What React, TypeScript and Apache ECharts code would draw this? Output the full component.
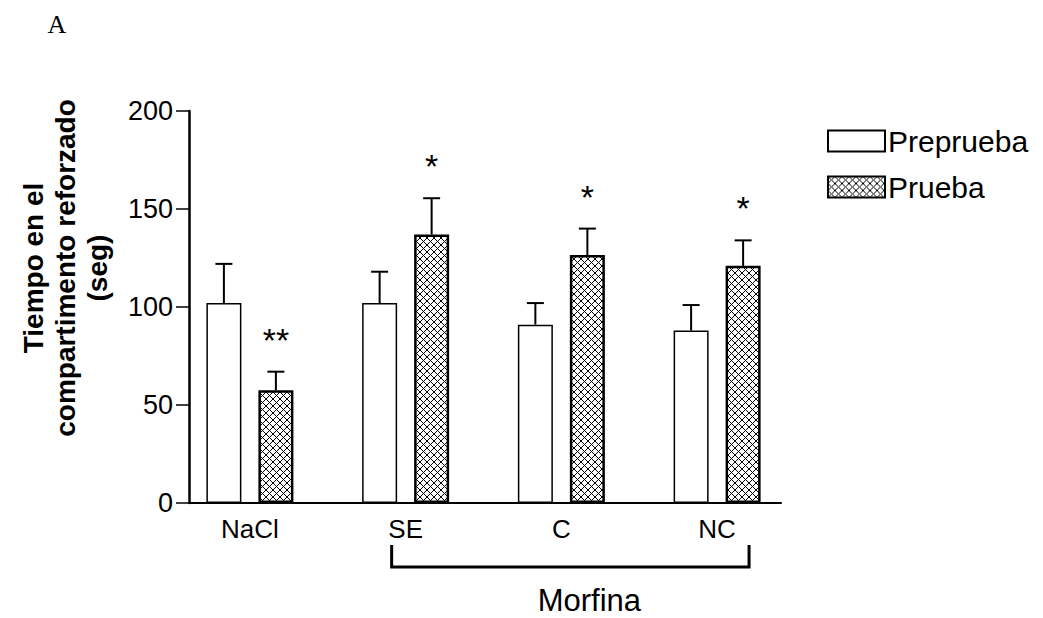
import React, { useEffect, useRef } from "react";
import * as echarts from "echarts";

const categories = ["NaCl", "SE", "C", "NC"];
const prepruebaMean = [102, 102, 91, 88];
const prepruebaErrTop = [122, 118, 102, 101];
const pruebaMean = [57.5, 137, 126.5, 121];
const pruebaErrTop = [67, 155.5, 140, 134];
const significance = ["**", "*", "*", "*"];
const seriesNames = ["Preprueba", "Prueba"];
const yMin = 0;
const yMax = 200;
const yInterval = 50;

const FONT = "'Liberation Sans', Arial, sans-serif";
const BAR_W = 35;
const BAR_GAP = 17;
const OFFSET = (BAR_W + BAR_GAP) / 2;

const hatchSvg =
  "<svg xmlns='http://www.w3.org/2000/svg' width='7' height='7'>" +
  "<rect width='7' height='7' fill='white'/>" +
  "<path d='M-1 -1L8 8M8 -1L-1 8' stroke='black' stroke-width='1'/></svg>";
const hatchUrl = "data:image/svg+xml;charset=utf-8," + encodeURIComponent(hatchSvg);

export default function App() {
  const ref = useRef<HTMLDivElement>(null);

  useEffect(() => {
    if (!ref.current) return;
    const chart = echarts.init(ref.current, null, { renderer: "svg" });

    const errSeries = (name: string, means: number[], tops: number[], side: number, stars: boolean) => ({
      type: "custom",
      name: name + "-err",
      z: 5,
      silent: true,
      data: categories.map((_, i) => [i, means[i], tops[i]]),
      renderItem: (params: any, api: any) => {
        const x = api.value(0);
        const base = api.coord([x, api.value(1)]);
        const top = api.coord([x, api.value(2)]);
        const cx = base[0] + side * OFFSET;
        const children: any[] = [
          { type: "line", shape: { x1: cx, y1: base[1], x2: cx, y2: top[1] }, style: { stroke: "#000", lineWidth: 2 } },
          { type: "line", shape: { x1: cx - 8.5, y1: top[1], x2: cx + 8.5, y2: top[1] }, style: { stroke: "#000", lineWidth: 2 } },
        ];
        if (stars) {
          children.push({
            type: "text",
            x: cx,
            y: top[1] - 32,
            style: { text: significance[params.dataIndex], font: `34px ${FONT}`, fill: "#000", align: "center", verticalAlign: "middle" },
          });
        }
        return { type: "group", children };
      },
    });

    const option: any = {
      animation: false,
      backgroundColor: "#fff",
      grid: { left: 189, right: 262, top: 111, bottom: 115, containLabel: false },
      legend: {
        orient: "vertical",
        left: 822,
        top: 121,
        itemWidth: 57,
        itemHeight: 21,
        itemGap: 16,
        icon: "rect",
        data: seriesNames,
        textStyle: { fontFamily: FONT, fontSize: 30, color: "#000", padding: [0, 0, 0, -2] },
        selectedMode: false,
      },
      xAxis: {
        type: "value",
        min: -61 / 156,
        max: 3 + 64 / 156,
        splitLine: { show: false },
        axisLine: { onZero: false, lineStyle: { color: "#000", width: 2 } },
        axisTick: { show: false },
        axisLabel: {
          customValues: [0, 1, 2, 3],
          formatter: (v: number) => categories[Math.round(v)] ?? "",
          fontFamily: FONT,
          fontSize: 26,
          color: "#000",
          margin: 13,
        },
      },
      yAxis: {
        type: "value",
        min: yMin,
        max: yMax,
        interval: yInterval,
        splitLine: { show: false },
        axisLine: { show: true, onZero: false, lineStyle: { color: "#000", width: 2.5 } },
        axisTick: { show: true, length: 13, lineStyle: { color: "#000", width: 1.5 } },
        axisLabel: { fontFamily: FONT, fontSize: 27, color: "#000", margin: 16 },
      },
      series: [
        {
          type: "bar",
          name: seriesNames[0],
          barWidth: BAR_W,
          barGap: `${(BAR_GAP / BAR_W) * 100}%`,
          data: categories.map((_, i) => [i, prepruebaMean[i]]),
          itemStyle: { color: "#fff", borderColor: "#000", borderWidth: 1.5 },
        },
        {
          type: "bar",
          name: seriesNames[1],
          barWidth: BAR_W,
          barGap: `${(BAR_GAP / BAR_W) * 100}%`,
          data: categories.map((_, i) => [i, pruebaMean[i]]),
          itemStyle: {
            color: { image: hatchUrl, repeat: "repeat", imageWidth: 7, imageHeight: 7 },
            borderColor: "#000",
            borderWidth: 2.5,
          },
        },
        errSeries(seriesNames[0], prepruebaMean, prepruebaErrTop, -1, false),
        errSeries(seriesNames[1], pruebaMean, pruebaErrTop, 1, true),
      ],
    };
    chart.setOption(option);

    const base = chart.convertToPixel({ gridIndex: 0 }, [0, 0]) as number[];
    const left = chart.convertToPixel({ gridIndex: 0 }, [1 - 14 / 156, 0]) as number[];
    const right = chart.convertToPixel({ gridIndex: 0 }, [3 + 32 / 156, 0]) as number[];
    const by = base[1];
    chart.setOption({
      graphic: [
        {
          type: "text",
          x: 57,
          y: 24,
          style: { text: "A", font: "26px 'Liberation Serif', serif", fill: "#000", align: "center", verticalAlign: "middle" },
        },
        {
          type: "text",
          x: 65,
          y: 268,
          rotation: Math.PI / 2,
          style: {
            text: "Tiempo en el\ncompartimento reforzado\n(seg)",
            font: `bold 28px ${FONT}`,
            lineHeight: 32,
            fill: "#000",
            align: "center",
            verticalAlign: "middle",
          },
        },
        {
          type: "polyline",
          shape: { points: [[left[0], by + 42], [left[0], by + 64], [right[0], by + 64], [right[0], by + 42]] },
          style: { stroke: "#000", lineWidth: 3, fill: null },
        },
        {
          type: "text",
          x: (left[0] + right[0]) / 2 + 19,
          y: by + 97,
          style: { text: "Morfina", font: `31px ${FONT}`, fill: "#000", align: "center", verticalAlign: "middle" },
        },
      ],
    });

    return () => chart.dispose();
  }, []);

  return (
    <div
      ref={ref}
      style={{ position: "fixed", left: 0, top: 0, width: 1043, height: 618, background: "#fff" }}
    />
  );
}
